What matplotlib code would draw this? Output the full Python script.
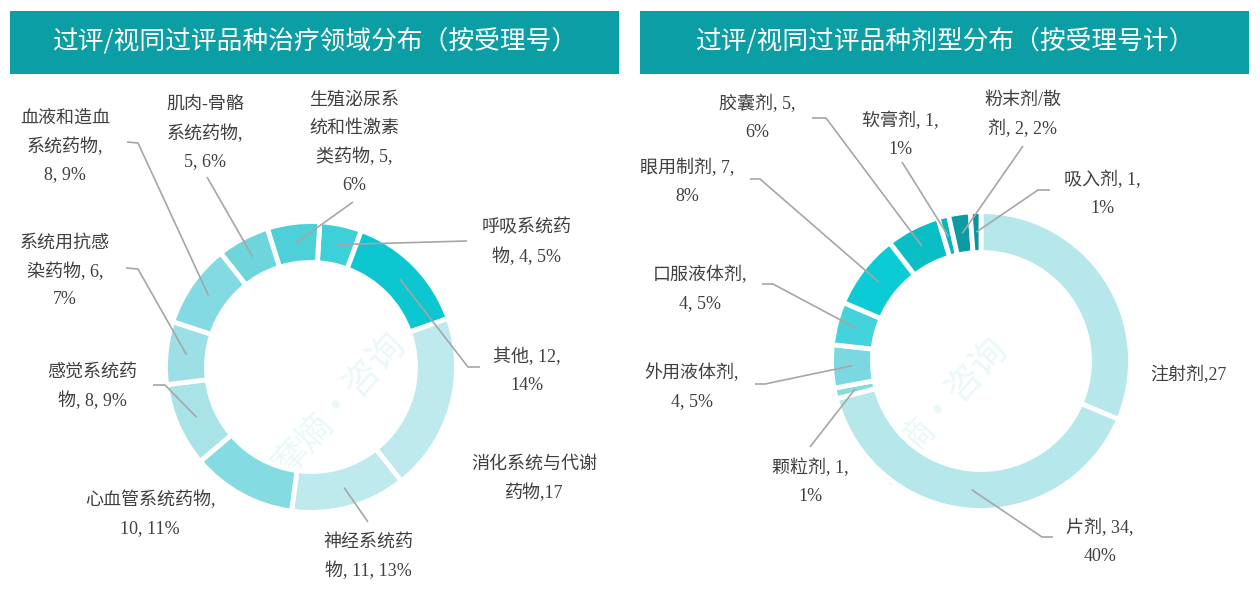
"""Two donut charts: 过评/视同过评品种 by therapeutic area and by dosage form."""

import matplotlib.pyplot as plt
import numpy as np
from matplotlib.patches import Rectangle

plt.rcParams["font.family"] = ["Liberation Serif", "Noto Sans CJK SC", "DejaVu Sans"]

W_PX, H_PX = 1260, 597

# ---- data: therapeutic area (按受理号) ----
area_names = ["呼吸系统药物", "其他", "消化系统与代谢药物", "神经系统药物", "心血管系统药物",
              "感觉系统药物", "系统用抗感染药物", "血液和造血系统药物", "肌肉-骨骼系统药物",
              "生殖泌尿系统和性激素类药物"]
area_counts = [4, 12, 17, 11, 10, 8, 6, 8, 5, 5]
area_labels = [["呼吸系统药", "物, 4, 5%"], ["其他, 12,", "14%"], ["消化系统与代谢", "药物,17"],
               ["神经系统药", "物, 11, 13%"], ["心血管系统药物,", "10, 11%"],
               ["感觉系统药", "物, 8, 9%"], ["系统用抗感", "染药物, 6,", "7%"],
               ["血液和造血", "系统药物,", "8, 9%"], ["肌肉-骨骼", "系统药物,", "5, 6%"],
               ["生殖泌尿系", "统和性激素", "类药物, 5,", "6%"]]
area_colors = ["#3ED0D8", "#0CC7CF", "#BEEAED", "#BEEAED", "#84DBE2",
               "#A8E3E8", "#9CDFE5", "#83DAE2", "#6ED5DC", "#4ED0D9"]

# ---- data: dosage form (按受理号计) ----
form_names = ["注射剂", "片剂", "颗粒剂", "外用液体剂", "口服液体剂", "眼用制剂",
              "胶囊剂", "软膏剂", "粉末剂/散剂", "吸入剂"]
form_counts = [27, 34, 1, 4, 4, 7, 5, 1, 2, 1]
form_labels = [["注射剂,27"], ["片剂, 34,", "40%"], ["颗粒剂, 1,", "1%"],
               ["外用液体剂,", "4, 5%"], ["口服液体剂,", "4, 5%"], ["眼用制剂, 7,", "8%"],
               ["胶囊剂, 5,", "6%"], ["软膏剂, 1,", "1%"], ["粉末剂/散", "剂, 2, 2%"],
               ["吸入剂, 1,", "1%"]]
form_colors = ["#B6E7EA", "#B6E7EA", "#86DBE1", "#7BD8E0", "#45D3DB", "#0BCCD4",
               "#0ABEC5", "#0AB4BB", "#0A9CA2", "#0A939A"]

titles = ["过评/视同过评品种治疗领域分布（按受理号）", "过评/视同过评品种剂型分布（按受理号计）"]

# ---- layout (pixel coords, y down) ----
area_text_xy = [(527, 228), (527, 357), (534, 464), (368, 542), (150, 500),
                (92, 372), (65, 243), (65, 118), (205, 105), (354, 100)]
area_leader = [[(467, 241)], [(480, 367), (468, 367)], None, [(368, 522)], None,
               [(153, 385), (165, 385)], [(126, 268), (138, 269)],
               [(127, 142), (138, 143)], [(207, 177)], [(353, 202)]]
form_text_xy = [(1188, 375), (1100, 528), (810, 468), (692, 373), (700, 275),
                (687, 168), (757, 104), (900, 121), (1023, 100), (1102, 180)]
form_leader = [None, [(1053, 537), (1042, 537)], [(810, 447)], [(755, 384), (765, 384)],
               [(762, 284), (773, 284)], [(750, 179), (760, 179)], [(812, 118), (826, 118)],
               [(902, 162)], [(1023, 146)], [(1050, 190), (1038, 190)]]

TEXT = "#404040"
LINE = "#A6A6A6"
BANNER = "#0B9EA5"
LINE_STEP = 28.5


def Y(y):
    return H_PX - y


fig = plt.figure(figsize=(W_PX / 100, H_PX / 100), dpi=100)
ax = fig.add_axes([0, 0, 1, 1])


def donut(counts, colors, labels, text_xy, leaders, cx, cy, radius, width, offset):
    ax.pie(counts, colors=colors, radius=radius, center=(cx, Y(cy)),
           startangle=90 - offset, counterclock=False,
           wedgeprops=dict(width=width, edgecolor="white", linewidth=3.5))
    vals = np.asarray(counts, dtype=float)
    mids = offset + (np.cumsum(vals) - vals / 2) / vals.sum() * 360
    r_mid = radius - width / 2
    for lines, (tx, ty), lead, ang in zip(labels, text_xy, leaders, mids):
        for k, s in enumerate(lines):
            ax.text(tx, Y(ty + k * LINE_STEP), s, ha="center", va="center",
                    fontsize=13, color=TEXT)
        if lead is None:
            continue
        a = np.radians(ang)
        ring = (cx + r_mid * np.sin(a), cy - r_mid * np.cos(a))
        pts = list(lead) + [ring]
        ax.plot([p[0] for p in pts], [Y(p[1]) for p in pts], color=LINE, lw=1.2,
                solid_capstyle="butt", zorder=3)


# faint watermark over each donut
for wx, wy in [(340, 405), (942, 410)]:
    ax.text(wx, Y(wy), "摩熵·咨询", rotation=48, ha="center", va="center",
            fontsize=26, color="#EAF8F9", zorder=0, family=["Noto Sans CJK SC"])

donut(area_counts, area_colors, area_labels, area_text_xy, area_leader,
      311, 367, 145.5, 41, 3.5)
donut(form_counts, form_colors, form_labels, form_text_xy, form_leader,
      981, 361, 149.5, 41, 0)

# header banners
for (x0, x1), title in zip([(10, 619), (640, 1249)], titles):
    ax.add_patch(Rectangle((x0, Y(74)), x1 - x0, 63, facecolor=BANNER, edgecolor="none"))
    ax.text((x0 + x1) / 2, Y(42), title, ha="center", va="center", fontsize=18.5,
            color="white", family=["Noto Sans CJK SC"])

ax.set_xlim(0, W_PX)
ax.set_ylim(0, H_PX)
ax.set_aspect("auto")
ax.set_axis_off()

fig.savefig("out.png", dpi=100, facecolor="white")
